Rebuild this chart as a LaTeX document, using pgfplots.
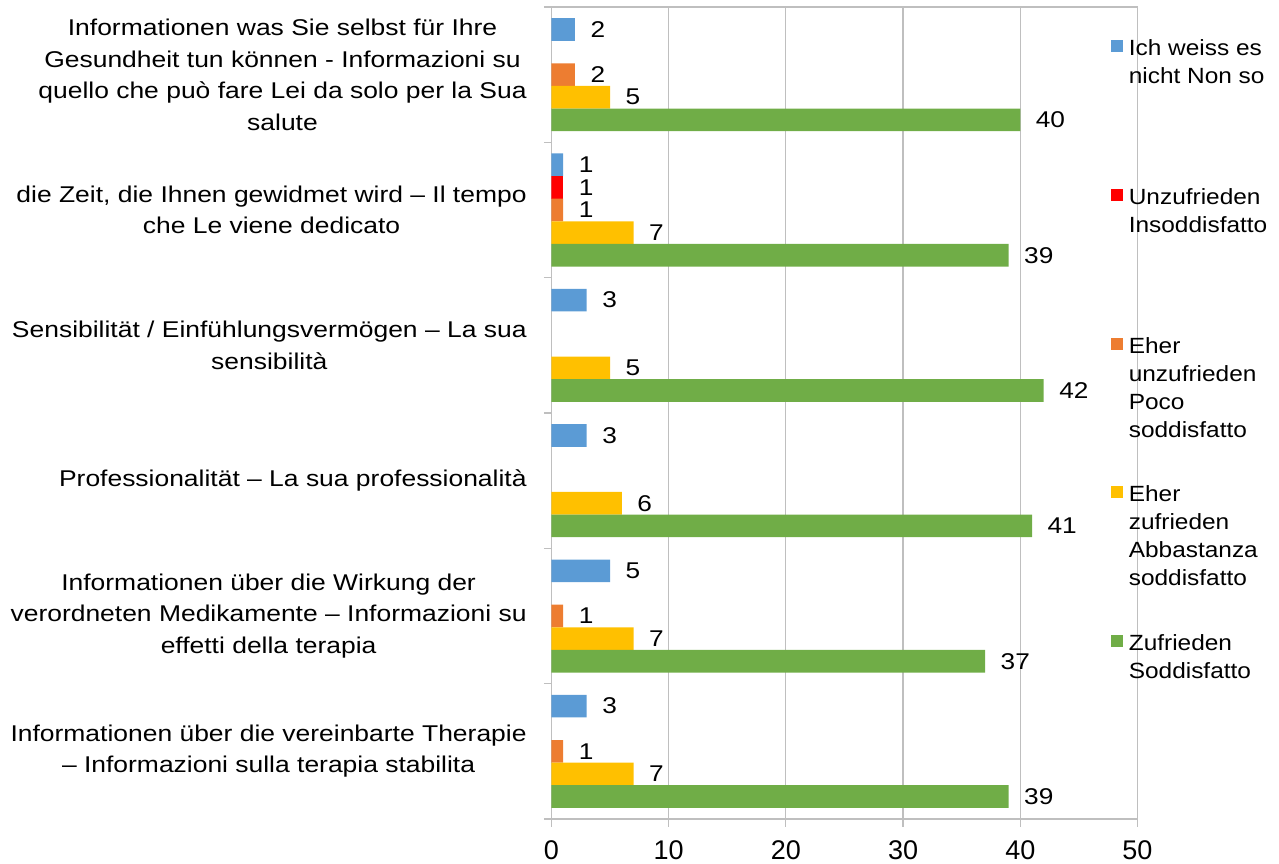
\documentclass[border=0pt]{standalone}
\usepackage{fontspec}
\setmainfont{Liberation Sans}
\newfontfamily\catfont[FakeStretch=1.16]{Liberation Sans}
\newfontfamily\lblfont[FakeStretch=1.15]{Liberation Sans}
\newfontfamily\legfont[FakeStretch=1.11]{Liberation Sans}
\usepackage{pgfplots}
\pgfplotsset{compat=1.18}
\definecolor{cblue}{HTML}{5B9BD5}
\definecolor{cred}{HTML}{FF0000}
\definecolor{corange}{HTML}{ED7D31}
\definecolor{cyellow}{HTML}{FFC000}
\definecolor{cgreen}{HTML}{70AD47}
\definecolor{gridgray}{HTML}{BFBFBF}
\pgfplotsset{
  sqlegend/.style={legend image code/.code={\fill[##1,draw=none] (0pt,-6.2pt) rectangle (6pt,-0.2pt);}},
}
\newcommand{\lgd}[1]{\parbox[t]{75pt}{\raggedright #1}}
\begin{document}
\begin{tikzpicture}
\begin{axis}[
  at={(0,0)}, anchor=south west,
  scale only axis, width=293pt, height=406pt,
  xmin=0, xmax=50, ymin=-0.5, ymax=5.5, enlargelimits=false,
  xbar, bar width=0.167,
  /pgf/number format/assume math mode=true,
  xtick={0,10,20,30,40,50}, xtick pos=bottom,
  ytick={-0.5,0.5,1.5,2.5,3.5,4.5,5.5}, yticklabels={}, ytick pos=left,
  tick align=outside, major tick length=3.85pt,
  xmajorgrids, grid style={draw=gridgray, line width=0.6pt},
  axis line style={draw=gridgray, line width=0.6pt},
  tick style={draw=gridgray, line width=0.6pt},
  xticklabel style={font=\fontsize{13.5}{16}\selectfont, yshift=-3.5pt},
  extra y ticks={0,1,2,3,4,5},
  extra y tick labels={
    {Informationen über die vereinbarte Therapie\\– Informazioni sulla terapia stabilita},
    {Informationen über die Wirkung der\\verordneten Medikamente – Informazioni su\\effetti della terapia},
    {Professionalität – La sua professionalità},
    {Sensibilität / Einfühlungsvermögen – La sua\\sensibilità},
    {die Zeit, die Ihnen gewidmet wird – Il tempo\\che Le viene dedicato},
    {Informationen was Sie selbst für Ihre\\Gesundheit tun können - Informazioni su\\quello che può fare Lei da solo per la Sua\\salute}},
  extra y tick style={major tick length=0pt, yticklabel style={align=center, font=\catfont\fontsize{11.4}{15.75}\selectfont, inner sep=0pt, xshift=-12.25pt}},
  point meta=x,
  nodes near coords,
  every node near coord/.append style={font=\lblfont\fontsize{11.4}{14}\selectfont, anchor=west, inner sep=0pt, xshift=7.6pt, text=black},
  sqlegend,
  legend style={at={(0.9545,0.9598)}, anchor=north west, draw=none, fill=none,
    inner sep=0pt, outer sep=0pt, row sep=64.9pt, column sep=3pt,
    cells={anchor=north west}, nodes={inner sep=0pt, outer sep=0pt},
    font=\legfont\fontsize{11}{14}\selectfont},
]
\addplot[fill=cblue, draw=none, bar shift=0.334] coordinates {(3,0) (5,1) (3,2) (3,3) (1,4) (2,5)};
\addlegendentry{\lgd{Ich weiss es\\nicht Non so}}
\addplot[fill=cred, draw=none, bar shift=0.167] coordinates {(1,4)};
\addlegendentry{\lgd{Unzufrieden\\Insoddisfatto}}
\addplot[fill=corange, draw=none, bar shift=0] coordinates {(1,0) (1,1) (1,4) (2,5)};
\addlegendentry{\lgd{Eher\\unzufrieden\\Poco\\soddisfatto}}
\addplot[fill=cyellow, draw=none, bar shift=-0.167] coordinates {(7,0) (7,1) (6,2) (5,3) (7,4) (5,5)};
\addlegendentry{\lgd{Eher\\zufrieden\\Abbastanza\\soddisfatto}}
\addplot[fill=cgreen, draw=none, bar shift=-0.334] coordinates {(39,0) (37,1) (41,2) (42,3) (39,4) (40,5)};
\addlegendentry{\lgd{Zufrieden\\Soddisfatto}}
\end{axis}
\pgfresetboundingbox
\path[use as bounding box] (-275.75pt,-22pt) rectangle (363.75pt,409.5pt);
\end{tikzpicture}
\end{document}
